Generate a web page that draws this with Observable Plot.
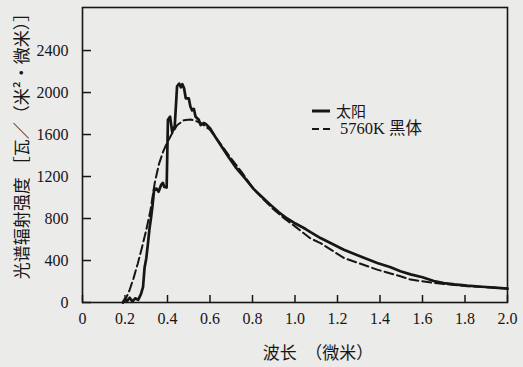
<!DOCTYPE html>
<html>
<head>
<meta charset="utf-8">
<script src="https://cdn.jsdelivr.net/npm/d3@7"></script>
<script src="https://cdn.jsdelivr.net/npm/@observablehq/plot@0.6"></script>
<style>
  html, body { margin: 0; padding: 0; background: #ebebe9; }
  #wrap { position: relative; width: 523px; height: 367px; }
  #legend { position: absolute; left: 305px; top: 100px; }
</style>
</head>
<body>
<div id="wrap"></div>
<script>
// ---- data ----
const sunX = [0.190,0.200,0.210,0.222,0.235,0.248,0.262,0.275,0.285,0.292,0.300,0.308,0.315,0.322,0.330,0.337,0.348,0.358,0.370,0.378,0.385,0.396,0.402,0.412,0.422,0.434,0.445,0.455,0.463,0.470,0.478,0.486,0.500,0.508,0.516,0.524,0.532,0.547,0.556,0.570,0.580,0.600,0.626,0.660,0.688,0.720,0.767,0.806,0.846,0.885,0.924,0.963,1.002,1.050,1.073,1.120,1.230,1.300,1.387,1.450,1.496,1.544,1.600,1.653,1.700,1.750,1.810,1.880,1.940,2.000];
const sunY = [0,35,15,45,10,40,25,80,150,330,420,560,700,800,930,1075,1085,1055,1120,1140,1100,1095,1740,1770,1625,1680,2060,2085,2050,2080,2040,1945,1945,1865,1830,1845,1770,1740,1690,1710,1700,1660,1574,1470,1384,1290,1178,1080,1003,930,860,800,752,700,670,614,503,445,377,335,297,268,240,205,185,172,160,150,142,133];

const bbX = [0.190,0.200,0.220,0.240,0.260,0.280,0.300,0.320,0.340,0.360,0.380,0.400,0.420,0.445,0.477,0.508,0.532,0.560,0.600,0.650,0.700,0.750,0.800,0.850,0.900,0.950,1.000,1.073,1.120,1.230,1.387,1.496,1.544,1.653,1.810,1.967,2.000];
const bbY = [0,20,110,230,370,525,690,880,1140,1320,1440,1530,1605,1689,1736,1743,1730,1705,1645,1510,1370,1240,1095,985,885,800,725,610,566,424,313,250,218,187,155,139,133];

const xTicks = [0,0.2,0.4,0.6,0.8,1.0,1.2,1.4,1.6,1.8,2.0];
const yTicks = [0,400,800,1200,1600,2000,2400];

const xLabel = "波长　（微米）";
const yLabel = "光谱辐射强度 ［瓦／（米²·微米）］";
const seriesNames = ["太阳", "5760K 黑体"];

const sun = sunX.map((x, i) => ({x, y: sunY[i]}));
const bb = bbX.map((x, i) => ({x, y: bbY[i]}));

const ink = "#161616";
const serif = "Liberation Serif, Tinos, Times New Roman, DejaVu Serif, Noto Sans CJK SC, serif";
const cjk = "Noto Sans CJK SC, Liberation Serif, sans-serif";

const chart = Plot.plot({
  width: 523,
  height: 367,
  marginLeft: 82,
  marginRight: 16,
  marginTop: 7,
  marginBottom: 65,
  style: "background: transparent; font-size: 16px;",
  x: {domain: [0, 2]},
  y: {domain: [0, 2810]},
  marks: [
    Plot.frame({stroke: ink, strokeWidth: 1.6}),
    Plot.axisX({ticks: xTicks, tickFormat: d => d === 0 ? "0" : d.toFixed(1), tickSize: -7, tickPadding: 17, strokeWidth: 1.5, label: null, fontSize: 16, fontFamily: serif, fill: ink, stroke: ink}),
    Plot.axisY({ticks: yTicks, tickFormat: d => String(d), tickSize: -9, tickPadding: 23, strokeWidth: 1.5, label: null, fontSize: 16, fontFamily: serif, fill: ink, stroke: ink}),
    Plot.line(bb, {x: "x", y: "y", stroke: ink, strokeWidth: 2, strokeDasharray: "9,4", curve: "linear"}),
    Plot.line(sun, {x: "x", y: "y", stroke: ink, strokeWidth: 2.7, strokeLinejoin: "round", curve: "linear"}),
    Plot.text([yLabel], {frameAnchor: "left", textAnchor: "middle", lineAnchor: "middle", rotate: -90, dx: -60, dy: -13, fontSize: 17, fontFamily: cjk, fill: ink}),
    Plot.text([xLabel], {frameAnchor: "bottom", textAnchor: "middle", lineAnchor: "middle", dx: 23, dy: 51, fontSize: 17, fontFamily: cjk, fill: ink})
  ]
});

const wrap = document.getElementById("wrap");
wrap.appendChild(chart);

// legend overlay
const ns = "http://www.w3.org/2000/svg";
const leg = document.createElementNS(ns, "svg");
leg.setAttribute("id", "legend");
leg.setAttribute("width", 140);
leg.setAttribute("height", 42);
const items = [
  {y: 11, dash: null, w: 3, tx: 31, font: cjk, size: 15},
  {y: 29, dash: "7,4", w: 2.2, tx: 35, font: serif, size: 16.5}
];
items.forEach((it, i) => {
  const l = document.createElementNS(ns, "line");
  l.setAttribute("x1", 7); l.setAttribute("x2", 25);
  l.setAttribute("y1", it.y); l.setAttribute("y2", it.y);
  l.setAttribute("stroke", ink); l.setAttribute("stroke-width", it.w);
  if (it.dash) l.setAttribute("stroke-dasharray", it.dash);
  leg.appendChild(l);
  const t = document.createElementNS(ns, "text");
  t.setAttribute("x", it.tx); t.setAttribute("y", it.y - 1);
  t.setAttribute("dominant-baseline", "central");
  t.setAttribute("font-family", it.font);
  t.setAttribute("font-size", it.size);
  t.setAttribute("fill", ink);
  t.textContent = seriesNames[i];
  leg.appendChild(t);
});
wrap.appendChild(leg);
</script>
</body>
</html>
